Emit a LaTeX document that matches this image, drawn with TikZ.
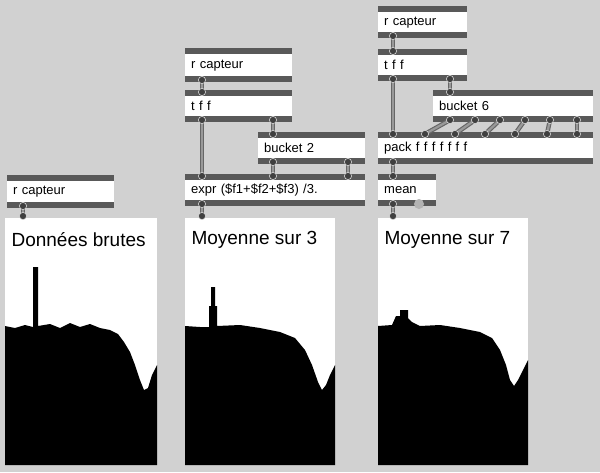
\documentclass[tikz,border=0pt]{standalone}
\usepackage{fontspec}
\setmainfont{Liberation Sans}
\usetikzlibrary{calc}
\tikzset{
  pdbox/.style={anchor=north west, fill=white, draw=none, inner xsep=6pt, inner ysep=0pt, align=left,
    font=\fontsize{13}{15}\selectfont,
    path picture={
      \fill[bar] (path picture bounding box.north west) rectangle ([yshift=-6pt]path picture bounding box.north east);
      \fill[bar] (path picture bounding box.south west) rectangle ([yshift=6pt]path picture bounding box.south east);}},
  bar/.style={fill=black!65},
  panel/.style={anchor=north west, fill=white, inner sep=0pt},
  cordbg/.style={line width=4.5pt, draw=black!60},
  cordfg/.style={line width=2.2pt, draw=black!40},
  port/.style={fill=black!75, draw=black!15, line width=0.6pt},
  title/.style={anchor=west, font=\fontsize{19}{22}\selectfont},
  temps/.style={anchor=south east, font=\fontsize{11}{13}\selectfont},
}
\newcommand{\cord}[2]{%
  \draw[cordbg] (#1) -- (#2); \draw[cordfg] (#1) -- (#2);
  \fill[port] (#1) circle (3.6pt); \fill[port] (#2) circle (3.6pt);}
\begin{document}
\begin{tikzpicture}[x=1pt,y=-1pt]
\fill[black!18] (0,0) rectangle (600,472);
\useasboundingbox (0,0) rectangle (600,472);
% panels
\node[panel, minimum width=152pt, minimum height=247pt] (g1) at (5,218) {};
\node[panel, minimum width=150pt, minimum height=247pt] (g2) at (185,218) {};
\node[panel, minimum width=150pt, minimum height=247pt] (g3) at (378,218) {};
\fill[black] (5,465) -- (5,326) -- (15,328) -- (25,325) -- (33,327) -- (33,267) -- (38,267) -- (38,326) -- (50,324) -- (60,328) -- (70,323) -- (80,327) -- (90,324) -- (100,328) -- (110,330) -- (118,334) -- (124,342) -- (130,352) -- (135,365) -- (140,380) -- (144,390) -- (148,388) -- (152,375) -- (157,365) -- (157,465) -- cycle;
\fill[black] (185,465) -- (185,326) -- (200,327) -- (209,327) -- (209,306) -- (211,306) -- (211,287) -- (215,287) -- (215,306) -- (217,306) -- (217,326) -- (240,325) -- (260,328) -- (280,332) -- (295,338) -- (305,350) -- (312,365) -- (318,382) -- (322,390) -- (326,385) -- (330,375) -- (335,365) -- (335,465) -- cycle;
\fill[black] (378,465) -- (378,326) -- (392,325) -- (396,316) -- (400,316) -- (400,310) -- (408,310) -- (408,318) -- (412,322) -- (420,326) -- (440,325) -- (460,328) -- (480,332) -- (492,338) -- (500,350) -- (506,365) -- (510,380) -- (514,386) -- (518,380) -- (523,370) -- (528,360) -- (528,465) -- cycle;
\node[title] (t1) at (8,240) {Données brutes};
\node[title] (t2) at (188,240) {Moyenne sur 3};
\node[title] (t3) at (381,240) {Moyenne sur 7};
\node[temps] (s1) at (155,463) {Temps};
\node[temps] (s2) at (333,463) {Temps};
\node[temps] (s3) at (526,463) {Temps};
% boxes
\node[pdbox, minimum width=107pt, minimum height=33pt, text width=95pt] (rc1) at (7,175) {r capteur};
\node[pdbox, minimum width=107pt, minimum height=34pt, text width=95pt] (rc2) at (185,48) {r capteur};
\node[pdbox, minimum width=107pt, minimum height=32pt, text width=95pt] (tf2) at (185,90) {t f f};
\node[pdbox, minimum width=107pt, minimum height=32pt, text width=95pt] (bk2) at (258,132) {bucket 2};
\node[pdbox, minimum width=180pt, minimum height=32pt, text width=168pt] (ex) at (185,174) {expr (\$f1+\$f2+\$f3) /3.};
\node[pdbox, minimum width=89pt, minimum height=32pt, text width=77pt] (rc3) at (378,6) {r capteur};
\node[pdbox, minimum width=89pt, minimum height=32pt, text width=77pt] (tf3) at (378,49) {t f f};
\node[pdbox, minimum width=160pt, minimum height=32pt, text width=148pt] (bk6) at (433,90) {bucket 6};
\node[pdbox, minimum width=215pt, minimum height=32pt, text width=203pt] (pk) at (378,132) {pack f f f f f f f};
\node[pdbox, minimum width=58pt, minimum height=32pt, text width=46pt] (mn) at (378,174) {mean};
\fill[black!30] (419,204) circle (5pt);
% cords
\cord{23,206}{23,216}
\cord{202,80}{202,92}
\cord{202,120}{202,176}
\cord{273,120}{273,134}
\cord{273,162}{273,176}
\cord{348,162}{348,176}
\cord{202,204}{202,216}
\cord{393,36}{393,51}
\cord{393,79}{393,134}
\cord{450,79}{450,92}
\cord{450,120}{425,134}
\cord{475,120}{455,134}
\cord{500,120}{485,134}
\cord{525,120}{515,134}
\cord{550,120}{547,134}
\cord{577,120}{577,134}
\cord{393,162}{393,176}
\cord{393,204}{393,216}
\end{tikzpicture}
\end{document}
